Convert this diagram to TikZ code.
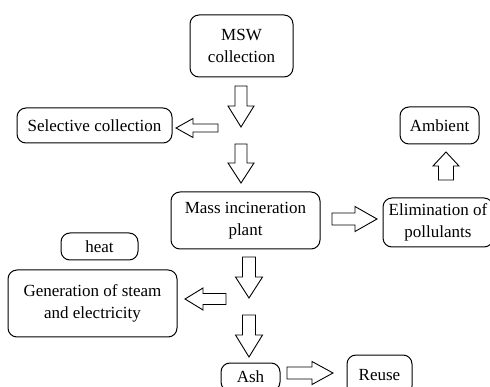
\documentclass[tikz,border=0pt]{standalone}
\usepackage{fontspec}
\setmainfont{Liberation Serif}
\begin{document}
\begin{tikzpicture}[x=1pt,y=-1pt,
  box/.style={draw=black,line width=1pt,rounded corners=9pt,fill=white,align=center,
    inner sep=0pt,font=\fontsize{17}{22}\selectfont},
  barrow/.style={draw=black,line width=0.9pt,fill=white,line join=miter}]
\clip (0,0) rectangle (490,387);
\fill[white] (0,0) rectangle (490,387);
\newcommand\harrow[6]{\draw[barrow] (#1,#4-#5) -- (#2,#4-#5) -- (#2,#4-#6) -- (#3,#4) -- (#2,#4+#6) -- (#2,#4+#5) -- (#1,#4+#5) -- cycle;}
\newcommand\varrow[6]{\draw[barrow] (#4-#5,#1) -- (#4-#5,#2) -- (#4-#6,#2) -- (#4,#3) -- (#4+#6,#2) -- (#4+#5,#2) -- (#4+#5,#1) -- cycle;}
% boxes
\node[box,minimum width=103pt,minimum height=62pt] (msw) at (241.5,46) {MSW\\collection};
\node[box,minimum width=155pt,minimum height=35pt] (sel) at (94.5,125.5) {Selective collection};
\node[box,minimum width=79pt,minimum height=37pt] (amb) at (439.5,125.5) {Ambient};
\node[box,minimum width=149pt,minimum height=57pt] (mass) at (245.5,220.5) {Mass incineration\\plant};
\node[box,minimum width=110pt,minimum height=49pt] (elim) at (438,222.5) {Elimination of\\pollulants};
\node[box,minimum width=77pt,minimum height=27pt] (heat) at (99.5,246.5) {heat};
\node[box,minimum width=169pt,minimum height=67pt] (gen) at (92.5,303.5) {Generation of steam\\and electricity};
\node[box,minimum width=59pt,minimum height=28pt] (ash) at (250.5,377) {Ash};
\node[box,minimum width=65pt,minimum height=40pt] (reuse) at (379.5,375) {Reuse};
% block arrows
\varrow{86}{106}{127}{241}{6}{13}
\varrow{144}{163}{183}{241}{6}{13}
\harrow{218}{193}{176}{128}{4}{9.5}
\varrow{180}{166}{152}{446}{7.5}{13}
\harrow{332}{355}{377}{219}{6}{12.5}
\harrow{226}{203}{185}{299}{5.5}{11}
\varrow{257}{277}{298}{249}{6.5}{13.5}
\varrow{315}{335}{357}{249}{6.5}{13.5}
\harrow{287}{312}{333}{373}{6}{11.5}
\end{tikzpicture}
\end{document}
